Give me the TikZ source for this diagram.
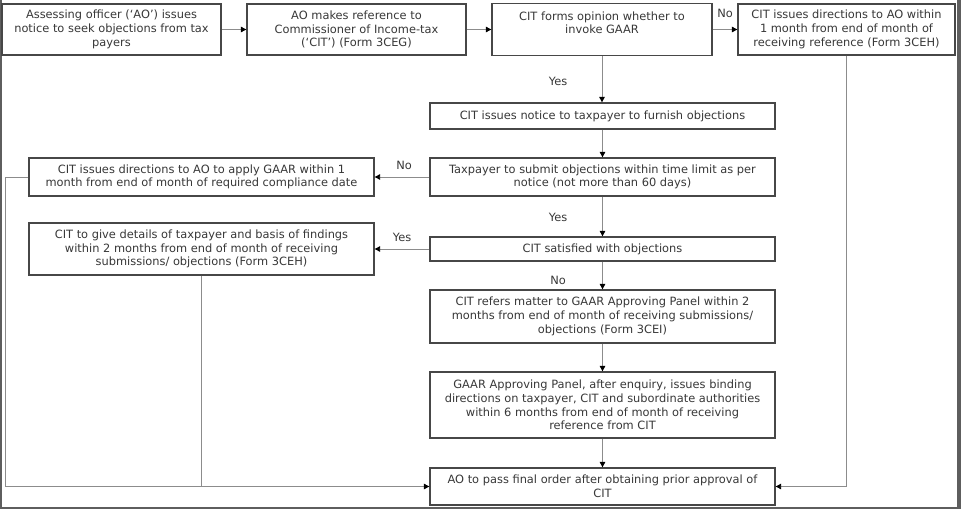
\documentclass[tikz,border=0pt]{standalone}
\usepackage{fontspec}
\setmainfont{DejaVu Sans}
\usetikzlibrary{arrows.meta}
\definecolor{boxgray}{HTML}{474747}
\definecolor{linegray}{HTML}{8C8C8C}
\definecolor{txt}{HTML}{383838}
\definecolor{framegray}{HTML}{5E5E5E}
\begin{document}
\begin{tikzpicture}[x=1pt,y=-1pt,
  box/.style={draw=boxgray, line width=1.3pt, fill=white, text=txt, align=center,
    inner sep=0pt, font=\fontsize{11.4}{13.7}\selectfont},
  lbl/.style={text=txt, inner sep=0pt, font=\fontsize{11.4}{13.7}\selectfont},
  conn/.style={draw=linegray, line width=0.9pt},
  arr/.style={conn, -{Triangle[length=5.5pt,width=5.5pt,color=black]}}]
\useasboundingbox (0,0) rectangle (961,509);
\fill[white] (0,0) rectangle (961,509);
\fill[framegray] (0,0) rectangle (1.6,509);
\fill[framegray] (957,0) rectangle (961,509);
\fill[framegray] (0,506.5) rectangle (961,509);

\node[box, minimum width=219pt, minimum height=51pt] (b1) at (111.5,29.5)
  {Assessing officer (`AO') issues\\notice to seek objections from tax\\payers};
\node[box, minimum width=219pt, minimum height=51pt] (b2) at (356.5,29.5)
  {AO makes reference to\\Commissioner of Income-tax\\(`CIT') (Form 3CEG)};
\node[box, minimum width=220pt, minimum height=52pt] (b3) at (602,29.5)
  {CIT forms opinion whether to\\invoke GAAR\\\mbox{}};
\node[box, minimum width=217pt, minimum height=51pt] (b4) at (846.5,29.5)
  {CIT issues directions to AO within\\1 month from end of month of\\receiving reference (Form 3CEH)};

\node[box, minimum width=345pt, minimum height=26pt] (notice) at (602.5,116)
  {CIT issues notice to taxpayer to furnish objections};
\node[box, minimum width=345pt, minimum height=38pt] (taxp) at (602.5,177)
  {Taxpayer to submit objections within time limit as per\\notice (not more than 60 days)};
\node[box, minimum width=345pt, minimum height=24pt] (sat) at (602.5,249)
  {CIT satisfied with objections};
\node[box, minimum width=345pt, minimum height=53pt] (refers) at (602.5,316.5)
  {CIT refers matter to GAAR Approving Panel within 2\\months from end of month of receiving submissions/\\objections (Form 3CEI)};
\node[box, minimum width=345pt, minimum height=66pt] (gaar) at (602.5,405)
  {GAAR Approving Panel, after enquiry, issues binding\\directions on taxpayer, CIT and subordinate authorities\\within 6 months from end of month of receiving\\reference from CIT};
\node[box, minimum width=345pt, minimum height=37pt] (final) at (602.5,486.5)
  {AO to pass final order after obtaining prior approval of\\CIT};

\node[box, minimum width=345pt, minimum height=38pt] (A) at (201.5,177)
  {CIT issues directions to AO to apply GAAR within 1\\month from end of month of required compliance date};
\node[box, minimum width=345pt, minimum height=52pt] (B) at (201.5,249)
  {CIT to give details of taxpayer and basis of findings\\within 2 months from end of month of receiving\\submissions/ objections (Form 3CEH)};

\node[lbl] (l1) at (725,13) {No};
\node[lbl] (l2) at (558,81) {Yes};
\node[lbl] (l3) at (404,165) {No};
\node[lbl] (l4) at (558,217) {Yes};
\node[lbl] (l5) at (402,237) {Yes};
\node[lbl] (l6) at (558,280) {No};

\coordinate (lc) at (5,486.5);

\draw[arr] (b1.east) -- (b2.west);
\draw[arr] (b2.east) -- (b3.west);
\draw[arr] (b3.east) -- (b4.west);
\draw[arr] (b3.south) -- (b3.south |- notice.north);
\draw[arr] (notice.south) -- (taxp.north);
\draw[arr] (taxp.south) -- (sat.north);
\draw[arr] (sat.south) -- (refers.north);
\draw[arr] (refers.south) -- (gaar.north);
\draw[arr] (gaar.south) -- (final.north);
\draw[arr] (taxp.west) -- (A.east);
\draw[arr] (sat.west) -- (B.east);
\draw[arr] (b4.south) |- (final.east);
\draw[arr] (A.west) -- (A.west -| lc) -- (lc) -- (final.west);
\draw[conn] (B.south) -- (B.south |- final.west);
\end{tikzpicture}
\end{document}
